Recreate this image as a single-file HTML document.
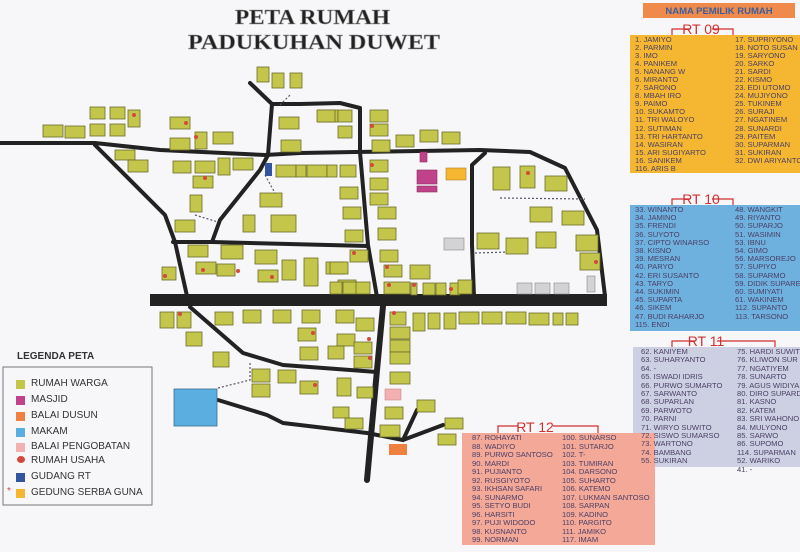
<!DOCTYPE html>
<html><head><meta charset="utf-8">
<style>
body{margin:0;background:#f7f7f9;}
#w{position:relative;width:800px;height:552px;overflow:hidden;font-family:"Liberation Sans",sans-serif;}
svg{position:absolute;left:0;top:0}
.p{position:absolute;font-size:7.6px;color:#4a3f66;}
.p div{white-space:nowrap;}
.lg{position:absolute;font-size:10px;color:#333;}
.ls{position:absolute;width:9px;height:9px;}
</style></head><body><div id="w">
<svg width="800" height="552" viewBox="0 0 800 552">
<g fill="none" stroke="#222" stroke-width="4" stroke-linejoin="round" stroke-linecap="round">
<path d="M0 143 L95 143 L160 150 L265 155 L300 153 L355 152 L480 150 L530 152 L565 168 L597 230 L605 296"/>
<path d="M95 145 L165 215 L175 242 L187 296"/>
<path d="M250 83 L272 104 L268 155 L260 170 L220 220 L212 242"/>
<path d="M272 104 L300 104 L340 103 L360 108 L360 152 L368 245 L377 297"/>
<path d="M173 242 L212 242 L368 246"/>
<path d="M485 153 L472 165 L472 245 L474 297"/>
<path d="M190 307 L243 353 L283 365 L377 372"/>
<path d="M218 400 L267 415 L283 423 L367 433 L403 440 L443 425"/>
<path d="M403 440 L417 410"/>
<path d="M383 306 L377 370 L367 480" stroke-width="6"/>
</g>
<rect x="150" y="294" width="457" height="12" fill="#222"/>
<g fill="none" stroke="#556" stroke-width="1.2" stroke-dasharray="2 2">
<path d="M218 388 L250 380 L250 362"/><path d="M500 198 L585 199"/><path d="M475 253 L510 252"/>
<path d="M265 175 L275 193"/><path d="M195 215 L218 222"/><path d="M280 105 L290 95"/>
</g>
<g fill="#c3c64a" stroke="#6b6b2a" stroke-width="0.8">
<rect x="43" y="125" width="20" height="12"/><rect x="65" y="126" width="20" height="12"/><rect x="90" y="107" width="15" height="12"/><rect x="110" y="107" width="15" height="12"/><rect x="90" y="124" width="15" height="12"/><rect x="110" y="124" width="15" height="12"/><rect x="128" y="110" width="12" height="17"/>
<rect x="115" y="150" width="20" height="10"/><rect x="128" y="160" width="20" height="12"/>
<rect x="170" y="117" width="20" height="12"/><rect x="170" y="138" width="20" height="12"/><rect x="195" y="132" width="12" height="17"/><rect x="213" y="132" width="20" height="12"/>
<rect x="173" y="161" width="18" height="12"/><rect x="195" y="161" width="20" height="12"/><rect x="218" y="158" width="12" height="17"/><rect x="233" y="158" width="20" height="12"/><rect x="193" y="176" width="20" height="12"/><rect x="190" y="195" width="12" height="17"/><rect x="175" y="220" width="20" height="12"/>
<rect x="257" y="67" width="12" height="15"/><rect x="272" y="73" width="12" height="15"/><rect x="290" y="73" width="12" height="15"/>
<rect x="279" y="117" width="20" height="12"/><rect x="281" y="140" width="20" height="12"/><rect x="318" y="110" width="20" height="12"/>
<rect x="276" y="165" width="20" height="12"/><rect x="296" y="165" width="10" height="12"/><rect x="307" y="165" width="20" height="12"/><rect x="327" y="165" width="10" height="12"/>
<rect x="260" y="193" width="22" height="14"/><rect x="243" y="215" width="12" height="17"/><rect x="271" y="215" width="25" height="17"/>
<rect x="188" y="245" width="20" height="12"/><rect x="221" y="245" width="22" height="14"/><rect x="255" y="250" width="22" height="14"/><rect x="162" y="267" width="14" height="13"/><rect x="196" y="262" width="20" height="12"/><rect x="217" y="264" width="18" height="12"/><rect x="258" y="270" width="20" height="12"/><rect x="282" y="260" width="14" height="20"/><rect x="306" y="265" width="12" height="16"/><rect x="326" y="262" width="18" height="12"/>
<rect x="317" y="110" width="18" height="12"/><rect x="338" y="110" width="14" height="12"/><rect x="338" y="126" width="14" height="12"/><rect x="370" y="110" width="18" height="12"/><rect x="370" y="124" width="18" height="12"/><rect x="372" y="140" width="18" height="12"/><rect x="396" y="135" width="18" height="12"/><rect x="420" y="130" width="18" height="12"/><rect x="442" y="132" width="18" height="12"/>
<rect x="340" y="165" width="16" height="12"/><rect x="370" y="160" width="18" height="12"/><rect x="370" y="178" width="18" height="12"/><rect x="370" y="193" width="18" height="12"/><rect x="378" y="207" width="18" height="12"/><rect x="378" y="228" width="18" height="12"/><rect x="340" y="187" width="18" height="12"/><rect x="343" y="207" width="18" height="12"/><rect x="345" y="230" width="18" height="12"/><rect x="350" y="250" width="18" height="12"/><rect x="330" y="262" width="18" height="12"/><rect x="338" y="280" width="18" height="12"/><rect x="304" y="258" width="14" height="28"/><rect x="330" y="282" width="12" height="12"/><rect x="343" y="282" width="14" height="12"/><rect x="356" y="282" width="14" height="12"/>
<rect x="380" y="250" width="18" height="12"/><rect x="384" y="265" width="18" height="12"/><rect x="410" y="265" width="20" height="14"/><rect x="384" y="282" width="26" height="12"/><rect x="411" y="283" width="6" height="12"/><rect x="423" y="283" width="12" height="12"/><rect x="436" y="283" width="10" height="12"/><rect x="450" y="283" width="10" height="12"/><rect x="458" y="280" width="14" height="14"/>
<rect x="493" y="167" width="17" height="23"/><rect x="520" y="166" width="15" height="22"/><rect x="545" y="176" width="22" height="15"/><rect x="530" y="207" width="22" height="15"/><rect x="562" y="211" width="22" height="14"/><rect x="477" y="233" width="22" height="16"/><rect x="506" y="238" width="22" height="16"/><rect x="536" y="232" width="20" height="16"/><rect x="576" y="235" width="22" height="16"/><rect x="580" y="253" width="20" height="17"/>
<rect x="160" y="312" width="14" height="16"/><rect x="177" y="312" width="14" height="16"/><rect x="215" y="312" width="18" height="13"/><rect x="243" y="310" width="18" height="13"/><rect x="273" y="310" width="18" height="13"/><rect x="302" y="310" width="18" height="13"/><rect x="336" y="310" width="18" height="13"/><rect x="356" y="318" width="18" height="13"/>
<rect x="390" y="312" width="16" height="13"/><rect x="390" y="327" width="20" height="12"/><rect x="390" y="340" width="20" height="12"/><rect x="390" y="352" width="20" height="12"/><rect x="413" y="313" width="12" height="18"/><rect x="428" y="313" width="12" height="16"/><rect x="444" y="313" width="12" height="16"/><rect x="459" y="312" width="20" height="12"/><rect x="482" y="312" width="20" height="12"/><rect x="506" y="312" width="20" height="12"/><rect x="529" y="313" width="20" height="12"/><rect x="553" y="313" width="10" height="12"/><rect x="566" y="313" width="12" height="12"/>
<rect x="186" y="332" width="16" height="14"/><rect x="213" y="352" width="16" height="15"/><rect x="298" y="328" width="18" height="13"/><rect x="300" y="347" width="18" height="13"/><rect x="337" y="334" width="18" height="12"/><rect x="354" y="342" width="18" height="12"/><rect x="354" y="356" width="18" height="12"/><rect x="328" y="346" width="16" height="13"/>
<rect x="252" y="369" width="18" height="13"/><rect x="278" y="370" width="18" height="13"/><rect x="300" y="381" width="18" height="13"/><rect x="252" y="384" width="18" height="13"/><rect x="337" y="378" width="14" height="18"/><rect x="357" y="387" width="16" height="11"/><rect x="333" y="407" width="16" height="11"/><rect x="345" y="418" width="18" height="11"/><rect x="390" y="372" width="20" height="12"/><rect x="385" y="407" width="18" height="12"/><rect x="380" y="425" width="20" height="12"/><rect x="417" y="400" width="18" height="12"/><rect x="445" y="418" width="18" height="11"/><rect x="438" y="434" width="18" height="11"/>
</g>
<rect x="265" y="163" width="7" height="13" fill="#3355a0"/>
<g fill="#c0428a" stroke="#8a3060" stroke-width="0.6"><rect x="420" y="152" width="7" height="10"/><rect x="417" y="170" width="20" height="14"/><rect x="417" y="186" width="20" height="6"/></g>
<rect x="446" y="168" width="20" height="12" fill="#f5b731" stroke="#b08020" stroke-width="0.6"/>
<g fill="#d3d3d6" stroke="#888" stroke-width="0.6"><rect x="444" y="238" width="20" height="12"/><rect x="517" y="283" width="15" height="11"/><rect x="535" y="283" width="15" height="11"/><rect x="554" y="283" width="15" height="11"/><rect x="587" y="276" width="8" height="16"/></g>
<rect x="385" y="389" width="16" height="11" fill="#f2b0b0" stroke="#c88" stroke-width="0.6"/>
<rect x="389" y="444" width="18" height="11" fill="#f08040"/>
<rect x="174" y="389" width="43" height="37" fill="#5aaee0" stroke="#3d6d90" stroke-width="0.8"/>
<g fill="#d24a3a"><circle cx="186" cy="123" r="2"/><circle cx="196" cy="137" r="2"/><circle cx="205" cy="178" r="2"/><circle cx="134" cy="115" r="2"/><circle cx="165" cy="276" r="2"/><circle cx="203" cy="270" r="2"/><circle cx="238" cy="271" r="2"/><circle cx="272" cy="277" r="2"/><circle cx="372" cy="126" r="2"/><circle cx="372" cy="165" r="2"/><circle cx="354" cy="253" r="2"/><circle cx="387" cy="267" r="2"/><circle cx="389" cy="285" r="2"/><circle cx="414" cy="285" r="2"/><circle cx="451" cy="289" r="2"/><circle cx="528" cy="173" r="2"/><circle cx="596" cy="262" r="2"/><circle cx="180" cy="314" r="2"/><circle cx="313" cy="333" r="2"/><circle cx="369" cy="339" r="2"/><circle cx="370" cy="358" r="2"/><circle cx="315" cy="385" r="2"/><circle cx="394" cy="313" r="2"/></g>
<rect x="3" y="367" width="149" height="138" fill="none" stroke="#777" stroke-width="1"/>
<g fill="none" stroke="#d03030" stroke-width="1.2">
<path d="M672 36 V29 H690 M712 29 H733 V36"/>
<path d="M672 206 V199 H690 M712 199 H733 V206"/>
<path d="M672 348 V341 H695 M717 341 H775 V348"/>
<path d="M498 434 V426 H518 M553 426 H598 V434"/>
</g>
<rect x="630" y="35" width="170" height="138" fill="#f5b731"/>
<rect x="630" y="205" width="170" height="126" fill="#6fb1de"/>
<rect x="633" y="347" width="167" height="120" fill="#cdd0e2"/>
<rect x="462" y="433" width="193" height="112" fill="#f4a898"/>
<rect x="643" y="3" width="152" height="15" fill="#ef8a4a"/>
<g font-family="Liberation Sans,sans-serif" fill="#d03030" font-size="14" text-anchor="middle"><text x="701" y="34">RT 09</text><text x="701" y="204">RT 10</text><text x="706" y="346">RT 11</text><text x="535" y="432">RT 12</text></g>
<text x="719" y="14" font-family="Liberation Sans,sans-serif" font-size="9.5" font-weight="bold" fill="#3a5fa0" text-anchor="middle">NAMA PEMILIK RUMAH</text>
<g font-family="Liberation Serif,serif" font-weight="bold" fill="#222" stroke="#999" stroke-width="0.6"><text x="235" y="24" font-size="21" textLength="155" lengthAdjust="spacingAndGlyphs">PETA RUMAH</text><text x="188" y="49" font-size="21" textLength="252" lengthAdjust="spacingAndGlyphs">PADUKUHAN DUWET</text></g>
</svg>
<div class="lg" style="left:17px;top:351px;font-weight:bold">LEGENDA PETA</div>
<div class="ls" style="left:16px;top:380px;background:#c3c64a"></div><div class="lg" style="left:31px;top:378px">RUMAH WARGA</div>
<div class="ls" style="left:16px;top:396px;background:#c0428a"></div><div class="lg" style="left:31px;top:394px">MASJID</div>
<div class="ls" style="left:16px;top:412px;background:#f08040"></div><div class="lg" style="left:31px;top:410px">BALAI DUSUN</div>
<div class="ls" style="left:16px;top:428px;background:#5aaee0"></div><div class="lg" style="left:31px;top:426px">MAKAM</div>
<div class="ls" style="left:16px;top:443px;background:#f2b0b0"></div><div class="lg" style="left:31px;top:441px">BALAI PENGOBATAN</div>
<div class="ls" style="left:17px;top:456px;background:#d24a3a;border-radius:50%;width:8px;height:7px"></div><div class="lg" style="left:31px;top:455px">RUMAH USAHA</div>
<div class="ls" style="left:16px;top:473px;background:#3355a0"></div><div class="lg" style="left:31px;top:471px">GUDANG RT</div>
<div class="ls" style="left:16px;top:489px;background:#f5b731"></div><div class="lg" style="left:7px;top:486px;color:#d24a3a">*</div><div class="lg" style="left:31px;top:487px">GEDUNG SERBA GUNA</div>
<div class="p" style="left:635px;top:36px;line-height:8.05px"><div>1. JAMIYO</div><div>2. PARMIN</div><div>3. IMO</div><div>4. PANIKEM</div><div>5. NANANG W</div><div>6. MIRANTO</div><div>7. SARONO</div><div>8. MBAH IRO</div><div>9. PAIMO</div><div>10. SUKAMTO</div><div>11. TRI WALOYO</div><div>12. SUTIMAN</div><div>13. TRI HARTANTO</div><div>14. WASIRAN</div><div>15. ARI SUGIYARTO</div><div>16. SANIKEM</div><div>116. ARIS B</div></div>
<div class="p" style="left:735px;top:36px;line-height:8.05px"><div>17. SUPRIYONO</div><div>18. NOTO SUSAN</div><div>19. SARYONO</div><div>20. SARKO</div><div>21. SARDI</div><div>22. KISMO</div><div>23. EDI UTOMO</div><div>24. MUJIYONO</div><div>25. TUKINEM</div><div>26. SURAJI</div><div>27. NGATINEM</div><div>28. SUNARDI</div><div>29. PAITEM</div><div>30. SUPARMAN</div><div>31. SUKIRAN</div><div>32. DWI ARIYANTO</div></div>
<div class="p" style="left:635px;top:206px;line-height:8.2px"><div>33. WINANTO</div><div>34. JAMINO</div><div>35. FRENDI</div><div>36. SUYOTO</div><div>37. CIPTO WINARSO</div><div>38. KISNO</div><div>39. MESRAN</div><div>40. PARYO</div><div>42. ERI SUSANTO</div><div>43. TARYO</div><div>44. SUKIMIN</div><div>45. SUPARTA</div><div>46. SIKEM</div><div>47. BUDI RAHARJO</div><div>115. ENDI</div></div>
<div class="p" style="left:735px;top:206px;line-height:8.2px"><div>48. WANGKIT</div><div>49. RIYANTO</div><div>50. SUPARJO</div><div>51. WASIMIN</div><div>53. IBNU</div><div>54. GIMO</div><div>56. MARSOREJO</div><div>57. SUPIYO</div><div>58. SUPARMO</div><div>59. DIDIK SUPARE</div><div>60. SUMIYATI</div><div>61. WAKINEM</div><div>112. SUPANTO</div><div>113. TARSONO</div></div>
<div class="p" style="left:641px;top:348px;line-height:8.4px"><div>62. KANIYEM</div><div>63. SUHARYANTO</div><div>64. -</div><div>65. ISWADI IDRIS</div><div>66. PURWO SUMARTO</div><div>67. SARWANTO</div><div>68. SUPARLAN</div><div>69. PARWOTO</div><div>70. PARNI</div><div>71. WIRYO SUWITO</div><div>72. SISWO SUMARSO</div><div>73. WARTONO</div><div>74. BAMBANG</div><div>55. SUKIRAN</div></div>
<div class="p" style="left:737px;top:348px;line-height:8.4px"><div>75. HARDI SUWITO</div><div>76. KLIWON SUR</div><div>77. NGATIYEM</div><div>78. SUNARTO</div><div>79. AGUS WIDIYA</div><div>80. DIRO SUPARD</div><div>81. KASNO</div><div>82. KATEM</div><div>83. SRI WAHONO</div><div>84. MULYONO</div><div>85. SARWO</div><div>86. SUPOMO</div><div>114. SUPARMAN</div><div>52. WARIKO</div><div>41. -</div></div>
<div class="p" style="left:472px;top:434px;line-height:8.5px"><div>87. ROHAYATI</div><div>88. WADIYO</div><div>89. PURWO SANTOSO</div><div>90. MARDI</div><div>91. PUJIANTO</div><div>92. RUSGIYOTO</div><div>93. IKHSAN SAFARI</div><div>94. SUNARMO</div><div>95. SETYO BUDI</div><div>96. HARSITI</div><div>97. PUJI WIDODO</div><div>98. KUSNANTO</div><div>99. NORMAN</div></div>
<div class="p" style="left:562px;top:434px;line-height:8.5px"><div>100. SUNARSO</div><div>101. SUTARJO</div><div>102. T-</div><div>103. TUMIRAN</div><div>104. DARSONO</div><div>105. SUHARTO</div><div>106. KATEMO</div><div>107. LUKMAN SANTOSO</div><div>108. SARPAN</div><div>109. KADINO</div><div>110. PARGITO</div><div>111. JAMIKO</div><div>117. IMAM</div></div>
</div></body></html>
